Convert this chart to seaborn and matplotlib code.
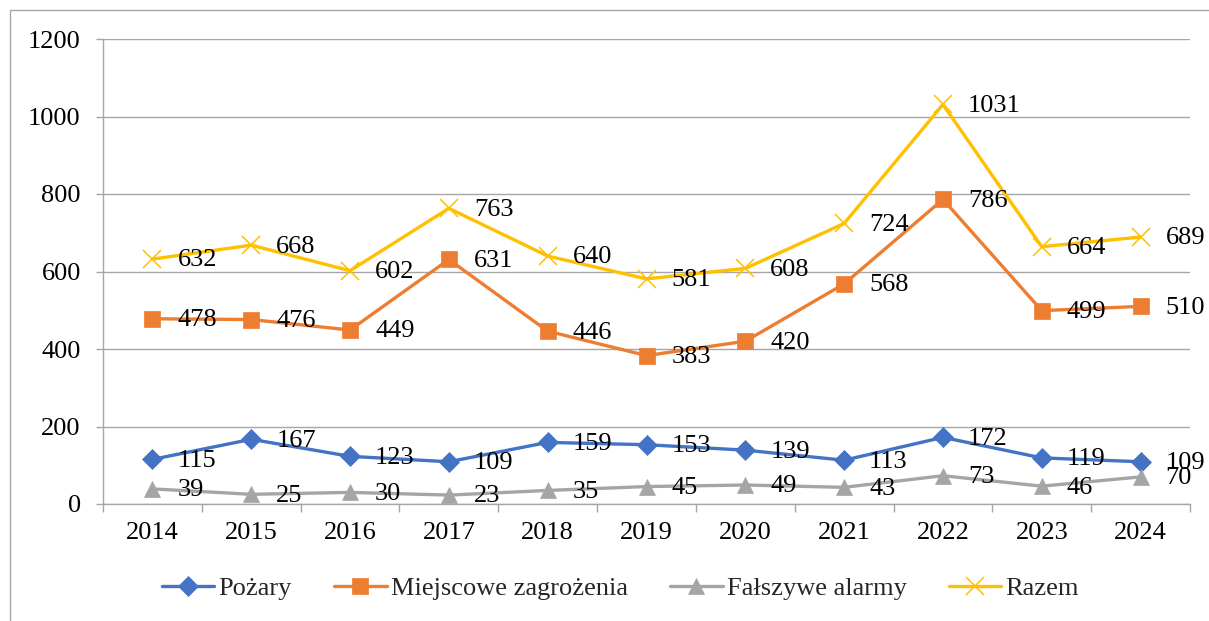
import matplotlib
matplotlib.use("Agg")
import matplotlib.pyplot as plt
from matplotlib.patches import Rectangle
import seaborn as sns
import pandas as pd

# Interventions per year, by category
years = [2014, 2015, 2016, 2017, 2018, 2019, 2020, 2021, 2022, 2023, 2024]
pozary = [115, 167, 123, 109, 159, 153, 139, 113, 172, 119, 109]
miejscowe = [478, 476, 449, 631, 446, 383, 420, 568, 786, 499, 510]
falszywe = [39, 25, 30, 23, 35, 45, 49, 43, 73, 46, 70]
razem = [632, 668, 602, 763, 640, 581, 608, 724, 1031, 664, 689]

series_names = ["Pożary", "Miejscowe zagrożenia", "Fałszywe alarmy", "Razem"]
series_values = [pozary, miejscowe, falszywe, razem]
y_ticks = [0, 200, 400, 600, 800, 1000, 1200]

colors = ["#4472C4", "#ED7D31", "#A5A5A5", "#FFC000"]
markers = ["D", "s", "^", "x"]
msizes = [10.5, 11, 11, 13]
mews = [0.5, 0.5, 0.5, 1.1]

sns.set_style("white")
plt.rcParams["font.family"] = ["Liberation Serif", "DejaVu Serif"]

fig = plt.figure(figsize=(12.09, 6.21), dpi=100)
ax = fig.add_axes([103 / 1209, 1 - 504 / 621, (1190 - 103) / 1209, (504 - 39) / 621])

grid_c = "#A6A6A6"
for name, vals, c, m, ms, mew in zip(series_names, series_values, colors, markers, msizes, mews):
    df = pd.DataFrame({"rok": years, "liczba": vals})
    sns.lineplot(data=df, x="rok", y="liczba", ax=ax, color=c, linewidth=2.4,
                 marker=m, markersize=ms, markeredgecolor=c, markerfacecolor=c,
                 markeredgewidth=mew, label=name, zorder=3)

# value labels to the right of each point
for vals in series_values:
    for x, v in zip(years, vals):
        ax.annotate(str(v), (x, v), xytext=(18, -1), textcoords="offset points",
                    ha="left", va="center", fontsize=19, color="black", zorder=5)

ax.set_xlim(years[0] - 0.5, years[-1] + 0.5)
ax.set_ylim(0, 1200)
ax.set_yticks(y_ticks)
ax.set_xticks(years)
ax.set_xticklabels([str(y) for y in years])
ax.set_xticks([y - 0.5 for y in years] + [years[-1] + 0.5], minor=True)
ax.set_xlabel("")
ax.set_ylabel("")

ax.grid(False)
ax.yaxis.grid(True, color=grid_c, linewidth=1.0)
ax.set_axisbelow(True)
for side in ["top", "right"]:
    ax.spines[side].set_visible(False)
for side in ["left", "bottom"]:
    ax.spines[side].set_color(grid_c)
    ax.spines[side].set_linewidth(1.0)

ax.tick_params(axis="y", which="major", left=True, length=5, width=1.0, color=grid_c,
               pad=11, labelsize=19, labelcolor="black")
ax.tick_params(axis="x", which="major", bottom=False, length=0, pad=13,
               labelsize=19, labelcolor="black")
ax.tick_params(axis="x", which="minor", bottom=True, length=6, width=1.0, color=grid_c)

handles, labels = ax.get_legend_handles_labels()
ax.legend(handles, labels, loc="center", bbox_to_anchor=(0.513, 0.052),
          bbox_transform=fig.transFigure, ncol=4, frameon=False, fontsize=19,
          handlelength=2.0, handletextpad=0.15, columnspacing=1.6)

# chart frame
fig.add_artist(Rectangle((10 / 1209, -0.5), 2, 0.5 + 1 - 10 / 621,
                         transform=fig.transFigure, fill=False,
                         edgecolor=grid_c, linewidth=1.0, clip_on=False))

fig.savefig("out.png", dpi=100)
